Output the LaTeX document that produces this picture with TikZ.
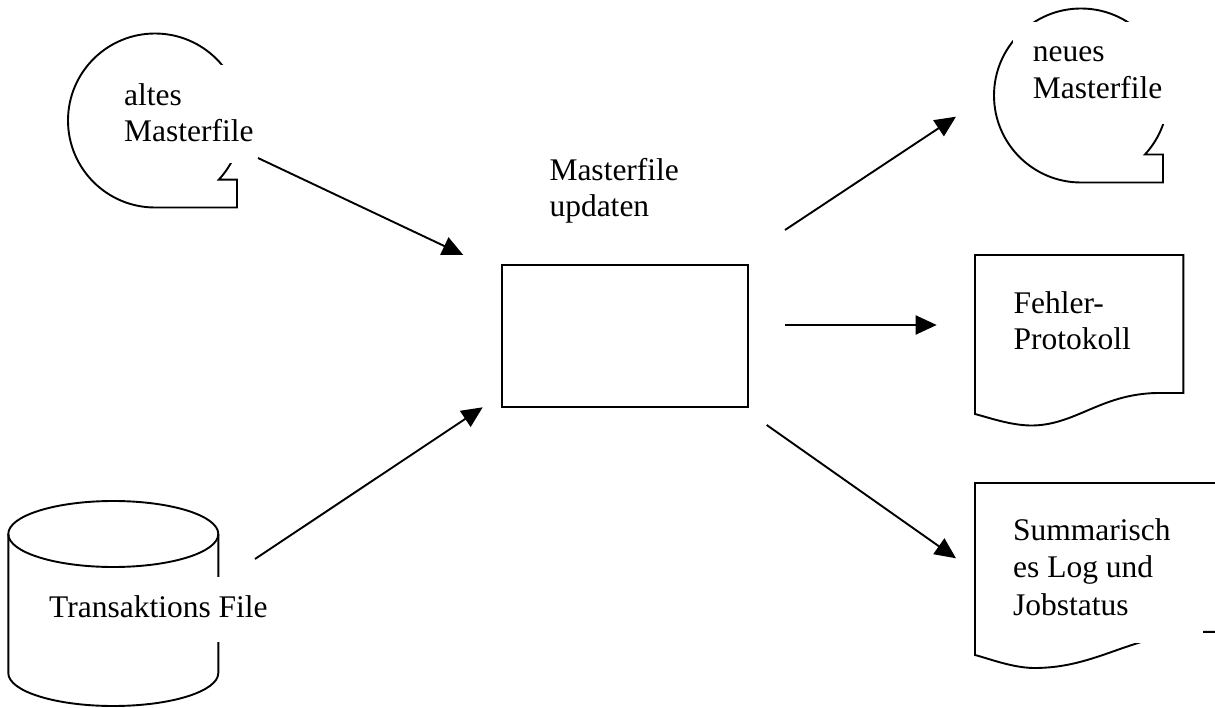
\documentclass[tikz,border=0pt]{standalone}
\usepackage{fontspec}
\setmainfont{Liberation Serif}
\usetikzlibrary{arrows.meta}
\begin{document}
\begin{tikzpicture}[x=1pt,y=-1pt,
  outline/.style={line width=1.9pt, line join=miter},
  flow/.style={line width=1.9pt, -{Triangle[length=21pt,width=19pt]}},
  label/.style={anchor=base west, inner sep=0pt, align=left,
    font=\fontsize{31.5}{36.5}\selectfont},
  mask/.style={fill=white, draw=none}]
\useasboundingbox (0,0) rectangle (1215,708);
\clip (0,0) rectangle (1215,708);

% tape symbol: old master file
\draw[outline] (155,120.5) ++(90:87)
  arc[start angle=90, end angle=402.8, radius=87]
  -- (237,179.6) -- (237,207.5) -- cycle;
% tape symbol: new master file
\draw[outline] (1081,95.5) ++(90:87)
  arc[start angle=90, end angle=402.7, radius=87]
  -- (1163,154.5) -- (1163,182.5) -- cycle;

% disk (cylinder): transaction file
\draw[outline] (113.3,534) ellipse[x radius=105, y radius=33];
\draw[outline] (8.3,534) -- (8.3,673)
  arc[start angle=180, end angle=0, x radius=105, y radius=33] -- (218.3,534);

% process box
\node[draw, line width=1.9pt, minimum width=246pt, minimum height=142pt, inner sep=0pt]
  (upd) at (625.3,335.9) {};

% document: error log
\draw[outline] (975,255) -- (1183.3,255) -- (1183.3,393) -- (1157,393)
  .. controls (1100,394) and (1075,426) .. (1030,425.5)
  .. controls (1010,425) and (990,418) .. (975,414) -- cycle;

% document: summary log (runs past the right edge)
\draw[outline] (1240,483) -- (975,483) -- (975,655)
  .. controls (990,659) and (1012,667.5) .. (1033,668)
  .. controls (1098,668.5) and (1131.6,633) .. (1203,631.9) -- (1240,631.9);

% white text frames lying over the symbols
\fill[mask] (105,65) rectangle (262,163);
\fill[mask] (1013,22) rectangle (1175,124);
\fill[mask] (40,577) rectangle (272,642);
\fill[mask] (1000,500) rectangle (1203,643);

% labels (anchored at the baseline of their last line)
\node[label] (tAlt) at (124,142) {altes\\Masterfile};
\node[label] (tNeu) at (1032.7,98.3) {neues\\Masterfile};
\node[label] (tUpd) at (549.3,216.7) {Masterfile\\updaten};
\node[label] (tErr) at (1013.3,350) {Fehler-\\Protokoll};
\node[label, font=\fontsize{31.5}{37.5}\selectfont] (tSum) at (1013,615)
  {Summarisch\\es Log und\\Jobstatus};
\node[label] (tTra) at (49,617) {Transaktions File};

% connector end points
\coordinate (a1s) at (258,158);   \coordinate (a1e) at (463.3,255);
\coordinate (a2s) at (255,559);   \coordinate (a2e) at (482.7,407.3);
\coordinate (a3s) at (785,230);   \coordinate (a3e) at (956,116.7);
\coordinate (a4s) at (785,325);   \coordinate (a4e) at (936.7,325);
\coordinate (a5s) at (766.7,425); \coordinate (a5e) at (956,558.3);

\draw[flow] (a1s) -- (a1e);
\draw[flow] (a2s) -- (a2e);
\draw[flow] (a3s) -- (a3e);
\draw[flow] (a4s) -- (a4e);
\draw[flow] (a5s) -- (a5e);
\end{tikzpicture}
\end{document}
